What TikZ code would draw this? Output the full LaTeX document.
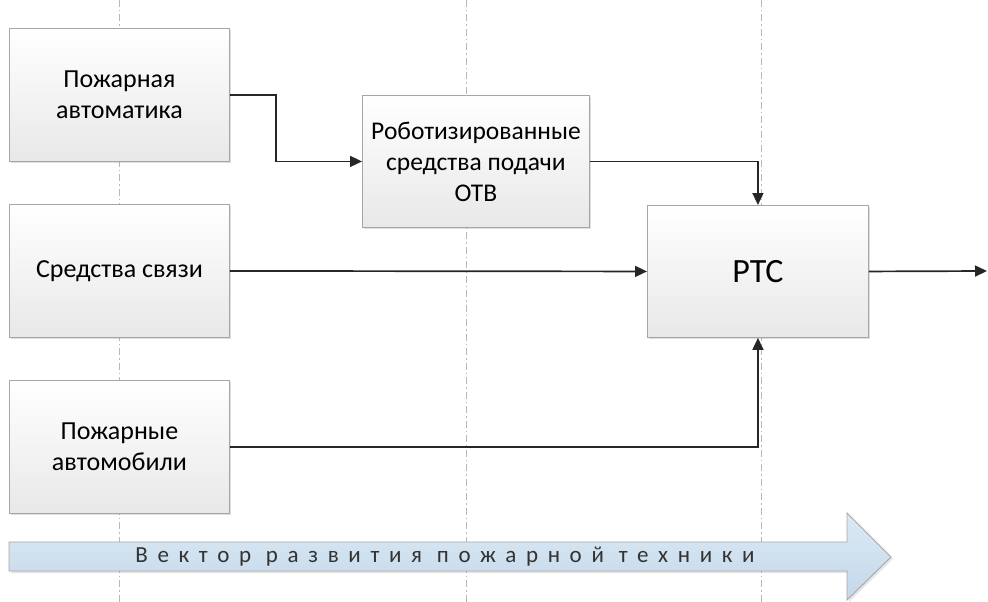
\documentclass[tikz,border=0pt]{standalone}
\usepackage{fontspec}
\setmainfont{Carlito}
\usetikzlibrary{arrows.meta,shadows}
\definecolor{boxborder}{HTML}{A6A6A6}
\definecolor{boxbot}{HTML}{E8E8E8}
\definecolor{linecol}{HTML}{262626}
\definecolor{arrtop}{HTML}{DCE9F4}
\definecolor{arrbot}{HTML}{C3D8EA}
\definecolor{guide}{HTML}{B8B8B8}
\tikzset{
  box/.style={draw=boxborder, line width=0.9pt, top color=white, bottom color=boxbot,
    drop shadow={shadow xshift=2pt, shadow yshift=-2pt, opacity=0.25, fill=black!50},
    align=center, inner sep=0pt, anchor=north west,
    font=\fontsize{26}{31}\selectfont},
  conn/.style={draw=linecol, line width=1.7pt, -{Triangle[length=12pt,width=11pt]}},
  guideline/.style={draw=guide, line width=0.7pt, dash pattern=on 7pt off 3pt on 1.5pt off 3pt}
}
\begin{document}
\begin{tikzpicture}[x=1pt,y=-1pt]
\useasboundingbox (0,0) rectangle (988,602);
% guide lines
\draw[guideline] (119,0) -- (119,602);
\draw[guideline] (466,0) -- (466,602);
\draw[guideline] (761,0) -- (761,602);
% boxes
\node[box, minimum width=220pt, minimum height=133pt] (auto) at (9,28) {Пожарная\\автоматика};
\node[box, minimum width=220pt, minimum height=133pt] (svyaz) at (9,204) {Средства связи};
\node[box, minimum width=220pt, minimum height=133pt] (avto) at (9,380) {Пожарные\\автомобили};
\node[box, minimum width=227pt, minimum height=132pt, font=\fontsize{25.5}{31}\selectfont] (robot) at (362,95) {Роботизированные\\средства подачи\\ОТВ};
\node[box, minimum width=221pt, minimum height=132pt, font=\fontsize{34}{40}\selectfont] (rts) at (647,205) {РТС};
\coordinate (out) at (987,271);
% connectors
\draw[conn] (auto.east) -- ++(46,0) |- (robot.west);
\draw[conn] (robot.east) -| (rts.north);
\draw[conn] (svyaz.east) -- (rts.west);
\draw[conn] (avto.east) -| (rts.south);
\draw[conn] (rts.east) -- (out);
% development vector arrow
\path[draw=boxborder, line width=0.9pt, top color=arrtop, bottom color=arrbot,
  drop shadow={shadow xshift=2pt, shadow yshift=-2pt, opacity=0.2, fill=black!50}]
  (9,542) -- (847,542) -- (847,513) -- (891,557) -- (847,600) -- (847,571) -- (9,571) -- cycle;
\node[font=\fontsize{23}{26}\selectfont\addfontfeatures{LetterSpace=42}, text=black!80, inner sep=0pt] (vec) at (445,557) {Вектор развития пожарной техники};
\end{tikzpicture}
\end{document}
